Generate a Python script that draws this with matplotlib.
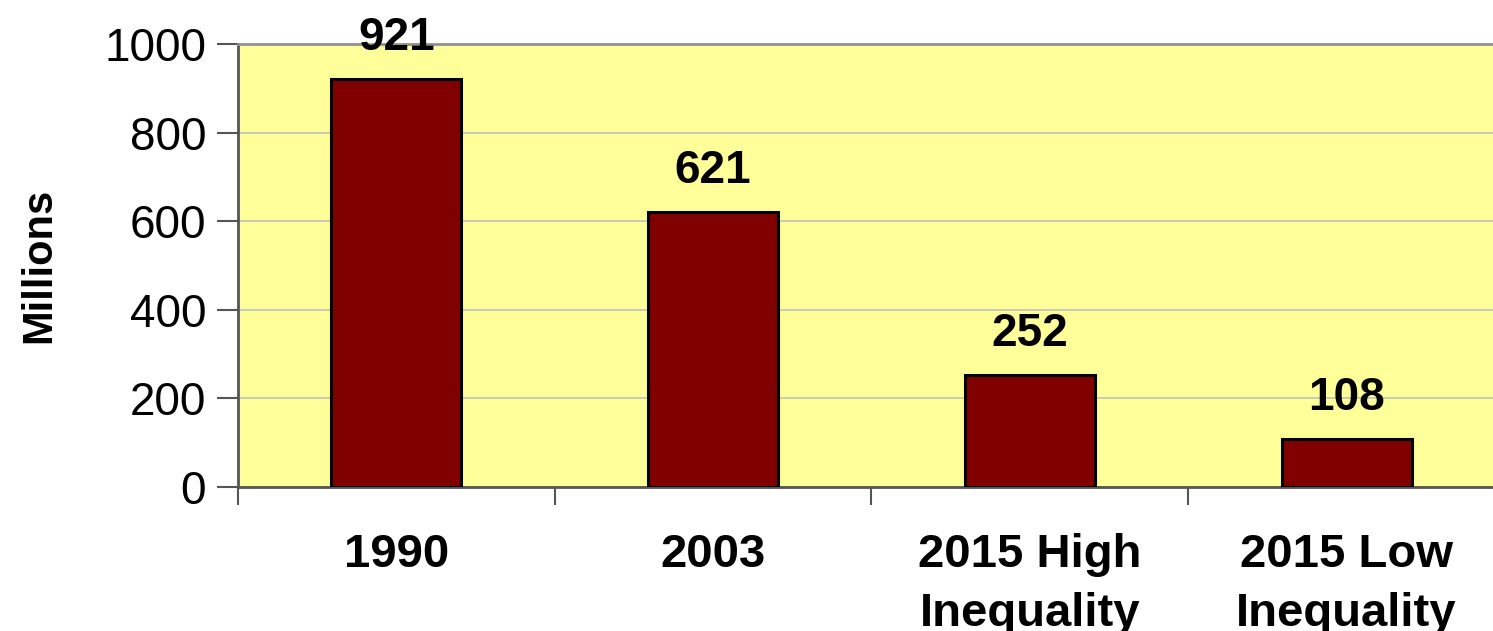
import matplotlib.pyplot as plt
import numpy as np

plt.rcParams['font.family'] = ['Liberation Sans', 'DejaVu Sans']

# data
categories = ["1990", "2003", "2015 High\nInequality", "2015 Low\nInequality"]
values = [921, 621, 252, 108]
yticks = [0, 200, 400, 600, 800, 1000]

fig = plt.figure(figsize=(14.93, 6.31), dpi=100)
ax = fig.add_axes([238 / 1493, 144 / 631, 1267 / 1493, 443 / 631])
ax.set_facecolor('#FFFF99')

x = np.arange(len(categories))
ax.bar(x, values, width=0.41, color='#800000', edgecolor='black', linewidth=2.2, zorder=3)

# value labels above bars
for xi, v in zip(x, values):
    ax.text(xi, v + 66, str(v), ha='center', va='baseline', fontsize=33, fontweight='bold')

ax.set_xlim(-0.5, len(categories) - 0.5)
ax.set_ylim(0, 1000)
ax.set_yticks(yticks)
ax.set_yticklabels([str(t) for t in yticks], fontsize=33)
ax.yaxis.grid(True, color='#C0C0C0', linewidth=1.2, zorder=0)

# category ticks sit between bars
ax.set_xticks(np.arange(-0.5, len(categories), 1.0))
ax.set_xticklabels([])
ax.set_xticks(x, minor=True)
ax.set_xticklabels(categories, minor=True, fontsize=34, fontweight='bold', linespacing=1.45)
ax.tick_params(axis='x', which='minor', length=0, pad=33)
ax.tick_params(axis='x', which='major', length=13, width=1.5, color='#555555')
ax.tick_params(axis='y', length=15, width=1.5, color='#555555', pad=8)
for lab in ax.get_xticklabels(minor=True):
    lab.set_va('top')

ax.set_ylabel("Millions", fontsize=30, fontweight='bold', labelpad=32)

for s in ['left', 'bottom']:
    ax.spines[s].set_color('#555555')
    ax.spines[s].set_linewidth(2)
ax.spines['top'].set_color('#909090')
ax.spines['top'].set_linewidth(2)
ax.spines['right'].set_visible(False)

fig.savefig('out.png', dpi=100)
